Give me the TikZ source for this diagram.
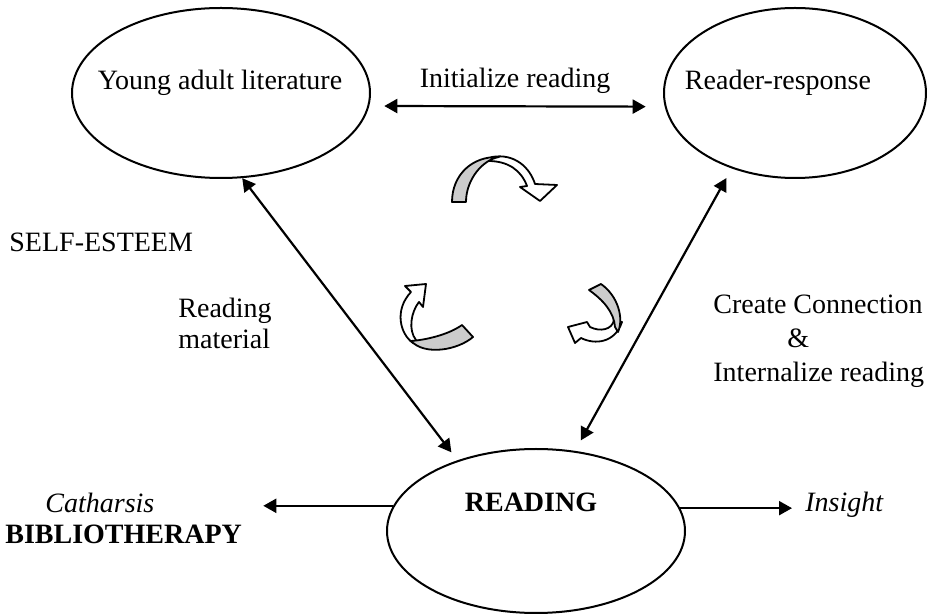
\documentclass[tikz,border=0pt]{standalone}
\usepackage{fontspec}
\setmainfont{Liberation Serif}
\usetikzlibrary{arrows.meta,shapes.geometric}
\begin{document}
\begin{tikzpicture}[x=0.5pt,y=-0.5pt,
oval/.style={
% The shape:
ellipse,
draw=black,
line width=1pt,
inner sep=0pt
},
txt/.style={inner sep=0pt,font=\fontsize{14}{16}\selectfont},
link/.style={line width=1.1pt,>={Triangle[length=6.5pt,width=7pt]}},
band/.style={draw=black,line width=0.9pt,line join=round}
]
\useasboundingbox (0,0) rectangle (927,614);
% The three ovals:
\node (young) [oval,minimum width=149pt,minimum height=85pt] at (221,93) {};
\node (reader) [oval,minimum width=131pt,minimum height=85pt] at (795,93) {};
\node (reading) [oval,minimum width=149pt,minimum height=82pt] at (536,531) {};
% Texts:
\node (younglbl) [txt,anchor=base] at (220,90) {Young adult literature};
\node (readerlbl) [txt,anchor=base] at (778,90) {Reader-response};
\node (init) [txt,anchor=base] at (515,88) {Initialize reading};
\node (readinglbl) [txt,anchor=base,font=\fontsize{14}{16}\selectfont\bfseries] at (531,512) {READING};
\node (self) [txt,anchor=base west] at (9,252) {SELF-ESTEEM};
\node (material) [txt,anchor=north west,align=left,font=\fontsize{14}{15.5}\selectfont] at (178,298) {Reading\\material};
\node (connect) [txt,anchor=north west,align=left,font=\fontsize{14}{17}\selectfont] at (713,295) {Create Connection\\\hspace*{37pt}\&\\Internalize reading};
\node (biblio) [txt,anchor=north west,align=left,font=\fontsize{14}{15.5}\selectfont] at (5,493) {\hspace*{20pt}\textit{Catharsis}\\\textbf{BIBLIOTHERAPY}};
\node (insight) [txt,anchor=base west,font=\fontsize{14}{16}\selectfont\itshape] at (805,512) {Insight};
% Connectors:
\draw[link,<->,shorten <=7.5pt,shorten >=9.5pt] (young.-5.4) -- (reader.186.2);
\draw[link,<->,shorten >=5pt] (young.-76) -- (reading.138);
\draw[link,<->,shorten <=5.5pt,shorten >=6pt] (reader.230.7) -- (reading.64.8);
\draw[link,->,shorten >=10.5pt] (reading.170.4) -- (reading.170.4 -| biblio.east);
\draw[link,->,shorten >=6.5pt] (reading.9.1) -- (reading.9.1 -| insight.west);
% Turning arrows, top:
\draw[band,fill=white] (492,157) .. controls (515,153) and (530,168) .. (535,184) -- (557,185) -- (540,201) -- (520,187) -- (527,186) .. controls (521,170) and (508,161) .. (488,161) -- cycle;
\draw[band,fill=black!20] (452,202) .. controls (452,175) and (472,156) .. (499,157) .. controls (482,160) and (466,180) .. (466,202) -- cycle;
% left:
\draw[band,fill=white] (411,292) -- (405,286) -- (426,284) -- (423,307) -- (419,302) .. controls (411,312) and (408,330) .. (416,340) -- (413,343) .. controls (400,334) and (394,310) .. (411,292) -- cycle;
\draw[band,fill=black!20] (411,341) .. controls (425,340) and (448,335) .. (462,325) -- (473,337) .. controls (458,350) and (425,356) .. (411,341) -- cycle;
% right:
\draw[band,fill=white] (590,327) -- (587,322) -- (568,327) -- (575,343) -- (581,338) .. controls (595,345) and (615,343) .. (622,322) -- (614,320) .. controls (612,330) and (600,332) .. (590,327) -- cycle;
\draw[band,fill=black!20] (589,290) .. controls (603,300) and (614,312) .. (615,327) -- (618,332) .. controls (624,318) and (618,296) .. (601,284) -- cycle;
\end{tikzpicture}
\end{document}
